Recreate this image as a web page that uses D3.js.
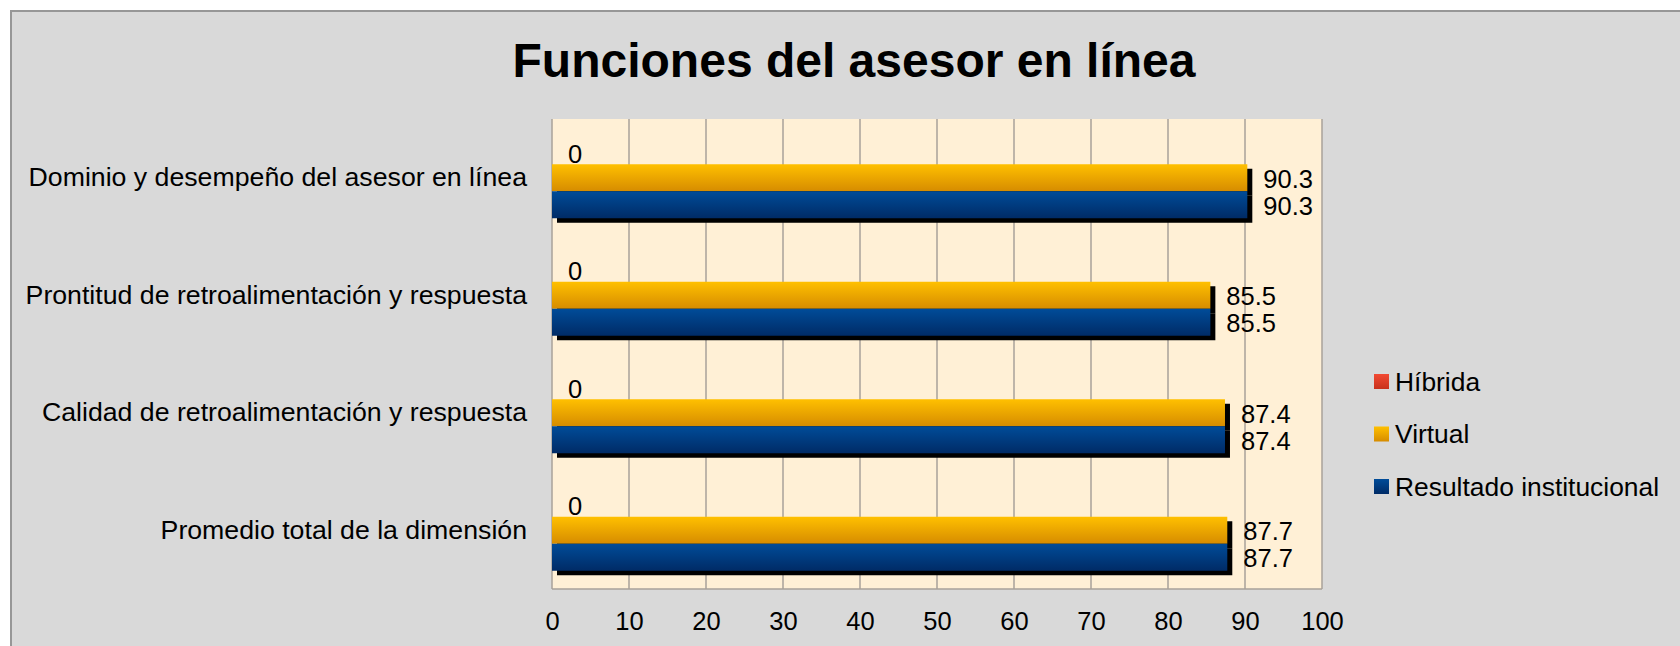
<!DOCTYPE html>
<html>
<head>
<meta charset="utf-8">
<script src="https://cdn.jsdelivr.net/npm/d3@7"></script>
<style>
  html, body { margin: 0; padding: 0; background: #ffffff; }
  svg { display: block; }
  text { font-family: "Liberation Sans", Arial, sans-serif; fill: #000; }
</style>
</head>
<body>
<svg id="chart" width="1680" height="646"></svg>
<script>
const categories = [
  "Dominio y desempeño del asesor en línea",
  "Prontitud de retroalimentación y respuesta",
  "Calidad de retroalimentación y respuesta",
  "Promedio total de la dimensión"
];
const seriesNames = ["Híbrida", "Virtual", "Resultado institucional"];
const hibrida = [0, 0, 0, 0];
const virtual = [90.3, 85.5, 87.4, 87.7];
const institucional = [90.3, 85.5, 87.4, 87.7];
const xTicks = [0, 10, 20, 30, 40, 50, 60, 70, 80, 90, 100];
const titleText = "Funciones del asesor en línea";

const seriesValues = [hibrida, virtual, institucional];
const gradStops = [
  ["#f24a33", "#c8321c"],
  ["#ffc000", "#d68c00"],
  ["#004c99", "#002b66"]
];

const svg = d3.select("#chart");
const W = 1680, H = 646;

svg.append("rect").attr("x", 0).attr("y", 0).attr("width", W).attr("height", H).attr("fill", "#ffffff");
svg.append("rect").attr("x", 11).attr("y", 11).attr("width", W).attr("height", H)
  .attr("fill", "#d9d9d9").attr("stroke", "#979797").attr("stroke-width", 2);

const defs = svg.append("defs");
gradStops.forEach((g, i) => {
  const lg = defs.append("linearGradient").attr("id", "g" + i)
    .attr("x1", 0).attr("y1", 0).attr("x2", 0).attr("y2", 1);
  lg.append("stop").attr("offset", "0%").attr("stop-color", g[0]);
  lg.append("stop").attr("offset", "100%").attr("stop-color", g[1]);
});

const plot = { left: 552, right: 1322, top: 119, bottom: 589 };

const x = d3.scaleLinear().domain([0, 100]).range([plot.left, plot.right]);
const y = d3.scaleBand().domain(categories).range([plot.top, plot.bottom]).padding(0);
const ySub = d3.scaleBand().domain(seriesNames).range([0, y.bandwidth()]).paddingInner(0).paddingOuter(0.676);

svg.append("rect").attr("x", plot.left).attr("y", plot.top)
  .attr("width", plot.right - plot.left).attr("height", plot.bottom - plot.top)
  .attr("fill", "#fff0d6");

svg.append("g").selectAll("line").data(xTicks).join("line")
  .attr("x1", d => x(d)).attr("x2", d => x(d))
  .attr("y1", plot.top).attr("y2", plot.bottom)
  .attr("stroke", "#a8a29a").attr("stroke-width", 1.5);
svg.append("line").attr("x1", plot.left).attr("x2", plot.right)
  .attr("y1", plot.bottom).attr("y2", plot.bottom)
  .attr("stroke", "#a8a29a").attr("stroke-width", 1.5);

const rows = [];
categories.forEach((c, ci) => {
  seriesNames.forEach((s, si) => {
    rows.push({ cat: c, series: s, si: si, value: seriesValues[si][ci] });
  });
});

svg.append("g").selectAll("rect").data(rows.filter(d => d.value > 0)).join("rect")
  .attr("x", x(0) + 5)
  .attr("y", d => y(d.cat) + ySub(d.series) + 4.5)
  .attr("width", d => x(d.value) - x(0))
  .attr("height", ySub.bandwidth())
  .attr("fill", "#000");

svg.append("g").selectAll("rect").data(rows).join("rect")
  .attr("x", x(0))
  .attr("y", d => y(d.cat) + ySub(d.series))
  .attr("width", d => x(d.value) - x(0))
  .attr("height", ySub.bandwidth())
  .attr("fill", d => "url(#g" + d.si + ")");

svg.append("g").selectAll("text").data(rows).join("text")
  .attr("x", d => x(d.value) + 16)
  .attr("y", d => y(d.cat) + ySub(d.series) + ySub.bandwidth() / 2 + (d.si === 0 ? 3 : 1))
  .attr("dominant-baseline", "central")
  .attr("font-size", 25.5)
  .text(d => d.value);

const yAxis = d3.axisLeft(y).tickSize(0).tickPadding(25);
const gy = svg.append("g").attr("transform", `translate(${plot.left},0)`).call(yAxis);
gy.select(".domain").remove();
gy.selectAll("text").attr("font-size", 26.7).attr("font-family", '"Liberation Sans", Arial, sans-serif').attr("fill", "#000");

const xAxis = d3.axisBottom(x).tickValues(xTicks).tickSize(0).tickPadding(0).tickFormat(d3.format("d"));
const gx = svg.append("g").attr("transform", `translate(0,${plot.bottom})`).call(xAxis);
gx.select(".domain").remove();
gx.selectAll("text").attr("font-size", 25.5).attr("font-family", '"Liberation Sans", Arial, sans-serif')
  .attr("fill", "#000").attr("dy", null).attr("y", 32).attr("dominant-baseline", "central");

svg.append("text").attr("x", 854).attr("y", 77).attr("text-anchor", "middle")
  .attr("font-size", 48).attr("font-weight", "bold").text(titleText);

const legend = svg.append("g").attr("transform", "translate(1374,0)");
const legY = [381.5, 434, 486.5];
seriesNames.forEach((s, i) => {
  legend.append("rect").attr("x", 0).attr("y", legY[i] - 7.5).attr("width", 15).attr("height", 15)
    .attr("fill", "url(#g" + i + ")");
  legend.append("text").attr("x", 21).attr("y", legY[i]).attr("dominant-baseline", "central")
    .attr("font-size", 26.4).text(s);
});
</script>
</body>
</html>
